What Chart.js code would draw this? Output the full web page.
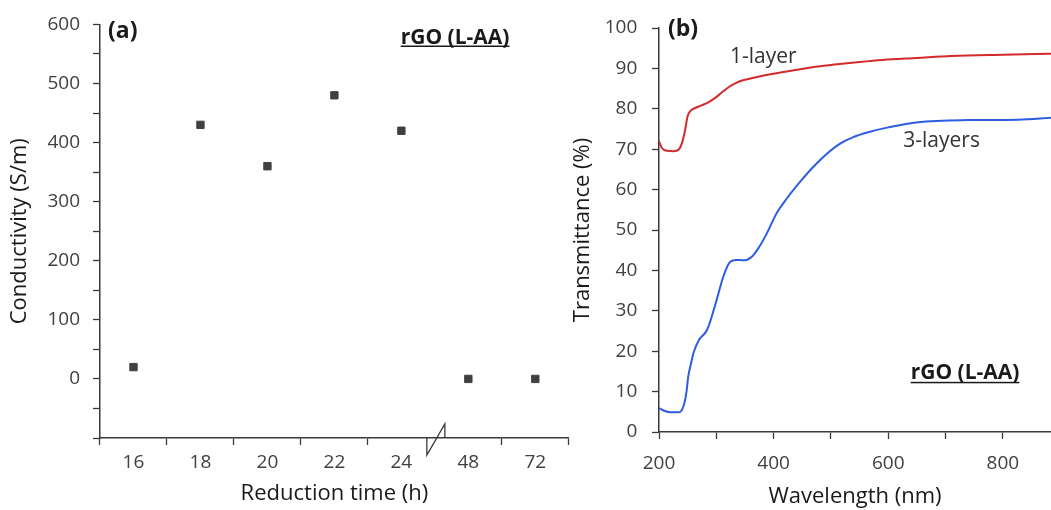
<!DOCTYPE html>
<html>
<head>
<meta charset="utf-8">
<script src="https://cdn.jsdelivr.net/npm/chart.js@4/dist/chart.umd.min.js"></script>
<style>
  body { margin: 0; background: #fff; }
  #wrap { position: relative; width: 1051px; height: 510px; overflow: hidden; }
  #cond { position: absolute; left: 0; top: 0; }
  #trans { position: absolute; left: 555px; top: 0; }
</style>
</head>
<body>
<div id="wrap">
  <canvas id="cond" width="575" height="510"></canvas>
  <canvas id="trans" width="496" height="510"></canvas>
</div>
<script>
// (a) conductivity vs reduction time
const hours = ['16', '18', '20', '22', '24', '48', '72']
const conductivity = [20, 430, 360, 480, 420, 0, 0]
const condLabels = [0, 100, 200, 300, 400, 500, 600]

// (b) transmittance spectra
const oneLayerNm = [200, 205, 215, 225, 235, 240, 245, 250, 255, 263, 275, 286, 298, 310, 322, 333, 345, 356, 375, 397, 438, 473, 510, 550, 590, 650, 710, 800, 884]
const oneLayerT = [72.0, 70.3, 69.6, 69.5, 70.0, 71.5, 74.3, 78.2, 79.5, 80.2, 80.9, 81.6, 82.7, 84.1, 85.4, 86.3, 87.0, 87.4, 88.0, 88.6, 89.6, 90.4, 91.0, 91.6, 92.1, 92.6, 93.1, 93.4, 93.6]
const threeLayerNm = [200, 210, 220, 235, 243, 248, 251, 256, 260, 269, 284, 298, 313, 324, 335, 348, 362, 373, 388, 405, 423, 446, 469, 493, 516, 539, 565, 600, 652, 739, 827, 884]
const threeLayerT = [5.9, 5.2, 4.9, 4.9, 6.5, 10.0, 13.7, 17.0, 19.5, 22.6, 25.3, 31.4, 38.8, 42.1, 42.6, 42.5, 43.4, 45.4, 49.1, 54.1, 57.8, 61.9, 65.6, 68.9, 71.4, 73.0, 74.2, 75.4, 76.7, 77.2, 77.3, 77.8]
const nmLabels = [200, 400, 600, 800]

Chart.defaults.font.family = '"Open Sans", sans-serif'
Chart.defaults.color = '#404040'

const axisColor = '#3a3a3a'

// free text written relative to the plot area
const notes = {
    id: 'notes',
    afterDraw(chart, args, opts) {
        const ctx = chart.ctx
        const a = chart.chartArea
        ctx.save()
        ctx.textAlign = 'left'
        ctx.textBaseline = 'alphabetic'
        opts.items.forEach(n => {
            ctx.font = n.font
            ctx.fillStyle = n.color || '#1a1a1a'
            const x = a.left + n.dx
            const y = a.top + n.dy
            ctx.fillText(n.text, x, y)
            if (n.underline) {
                const w = ctx.measureText(n.text).width
                ctx.fillRect(x, y + n.underline, w, 1.5)
            }
        })
        ctx.restore()
    }
}

// broken-axis mark between 24 h and 48 h
const axisBreak = {
    id: 'axisBreak',
    afterDraw(chart) {
        const ctx = chart.ctx
        const sx = chart.scales.x
        const xb = (sx.getPixelForValue(4) + sx.getPixelForValue(5)) / 2
        const y = chart.chartArea.bottom
        ctx.save()
        ctx.strokeStyle = axisColor
        ctx.lineWidth = 1.3
        ctx.beginPath()
        ctx.moveTo(xb - 8, y)
        ctx.lineTo(xb - 8, y + 17)
        ctx.lineTo(xb + 10, y - 14)
        ctx.lineTo(xb + 10, y)
        ctx.stroke()
        ctx.restore()
    }
}

//Scatter (a)
new Chart(document.getElementById('cond'), {
    type: 'line',
    data: {
        labels: hours,
        datasets: [
            {
                data: conductivity,
                showLine: false,
                pointStyle: 'rect',
                pointRadius: 5.2,
                pointBorderWidth: 1,
                pointBackgroundColor: '#404040',
                pointBorderColor: '#404040'
            }
        ]
    },
    options: {
        responsive: false,
        animation: false,
        layout: { padding: { top: 23, right: 5, left: 0, bottom: 0 } },
        plugins: {
            legend: { display: false },
            tooltip: { enabled: false },
            notes: {
                items: [
                    { text: '(a)', font: 'bold 23px "Open Sans"', dx: 8, dy: 13.7 },
                    { text: 'rGO (L-AA)', font: 'bold 21px "Open Sans"', dx: 300.7, dy: 19.3, underline: 1.8 }
                ]
            }
        },
        scales: {
            x: {
                type: 'category',
                offset: true,
                grid: {
                    offset: true,
                    drawOnChartArea: false,
                    tickLength: 7,
                    tickWidth: 1.3,
                    tickColor: ctx => (ctx.index === 5 || ctx.index === 7) ? 'rgba(0,0,0,0)' : axisColor
                },
                border: { color: axisColor, width: 1.5 },
                ticks: { font: { size: 19 }, padding: 6, autoSkip: false, maxRotation: 0 },
                title: {
                    display: true,
                    text: 'Reduction time (h)',
                    color: '#1a1a1a',
                    font: { size: 22 },
                    padding: { top: 0, bottom: 3 }
                },
                afterFit: scale => { scale.height = 72 }
            },
            y: {
                min: -100,
                max: 600,
                grid: { drawOnChartArea: false, tickLength: 7, tickWidth: 1.3, tickColor: axisColor },
                border: { color: axisColor, width: 1.5 },
                ticks: {
                    stepSize: 50,
                    autoSkip: false,
                    padding: 13,
                    font: { size: 19 },
                    callback: v => condLabels.includes(v) ? v : ''
                },
                title: {
                    display: true,
                    text: 'Conductivity (S/m)',
                    color: '#1a1a1a',
                    font: { size: 22 },
                    padding: { top: 7, bottom: 0 }
                },
                afterFit: scale => { scale.width = 100 }
            }
        }
    },
    plugins: [notes, axisBreak]
})

//Line chart (b)
new Chart(document.getElementById('trans'), {
    type: 'line',
    data: {
        datasets: [
            {
                label: '1-layer',
                data: oneLayerNm.map((x, i) => ({ x: x, y: oneLayerT[i] })),
                borderColor: '#d42a2c',
                borderWidth: 2,
                pointRadius: 0,
                cubicInterpolationMode: 'monotone',
                fill: false
            },
            {
                label: '3-layers',
                data: threeLayerNm.map((x, i) => ({ x: x, y: threeLayerT[i] })),
                borderColor: '#2d5de0',
                borderWidth: 2,
                pointRadius: 0,
                cubicInterpolationMode: 'monotone',
                fill: false
            }
        ]
    },
    options: {
        responsive: false,
        animation: false,
        layout: { padding: { top: 28, right: 0, left: 0, bottom: 0 } },
        plugins: {
            legend: { display: false },
            tooltip: { enabled: false },
            notes: {
                items: [
                    { text: '(b)', font: 'bold 23px "Open Sans"', dx: 9, dy: 8 },
                    { text: '1-layer', font: '21px "Open Sans"', color: '#333', dx: 71, dy: 35.3 },
                    { text: '3-layers', font: '21px "Open Sans"', color: '#333', dx: 244.3, dy: 118.7 },
                    { text: 'rGO (L-AA)', font: 'bold 21px "Open Sans"', dx: 251.7, dy: 351.3, underline: 2.5 }
                ]
            }
        },
        scales: {
            x: {
                type: 'linear',
                min: 200,
                max: 884,
                afterBuildTicks: scale => {
                    scale.ticks = [200, 300, 400, 500, 600, 700, 800].map(v => ({ value: v }))
                },
                grid: { drawOnChartArea: false, tickLength: 7, tickWidth: 1.3, tickColor: axisColor },
                border: { color: axisColor, width: 1.5 },
                ticks: {
                    font: { size: 19 },
                    padding: 13.6,
                    maxRotation: 0,
                    autoSkip: false,
                    callback: v => nmLabels.includes(v) ? v : ''
                },
                title: {
                    display: true,
                    text: 'Wavelength (nm)',
                    color: '#1a1a1a',
                    font: { size: 22 },
                    padding: { top: 0, bottom: 0 }
                },
                afterFit: scale => { scale.height = 78 }
            },
            y: {
                min: 0,
                max: 100,
                grid: { drawOnChartArea: false, tickLength: 7, tickWidth: 1.3, tickColor: axisColor },
                border: { color: axisColor, width: 1.5 },
                ticks: { stepSize: 10, autoSkip: false, padding: 14.7, font: { size: 19 } },
                title: {
                    display: true,
                    text: 'Transmittance (%)',
                    color: '#1a1a1a',
                    font: { size: 22 },
                    padding: { top: 14.8, bottom: 0 }
                },
                afterFit: scale => { scale.width = 104 }
            }
        }
    },
    plugins: [notes]
})
</script>
</body>
</html>
